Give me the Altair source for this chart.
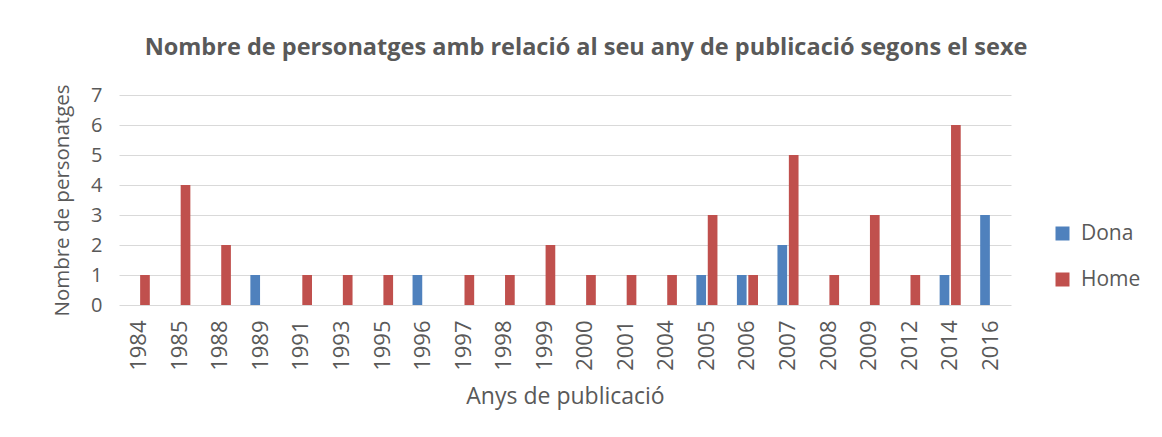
import altair as alt
import pandas as pd

years = ["1984", "1985", "1988", "1989", "1991", "1993", "1995", "1996", "1997", "1998",
         "1999", "2000", "2001", "2004", "2005", "2006", "2007", "2008", "2009", "2012",
         "2014", "2016"]
dona = [0, 0, 0, 1, 0, 0, 0, 1, 0, 0, 0, 0, 0, 0, 1, 1, 2, 0, 0, 0, 1, 3]
home = [1, 4, 2, 0, 1, 1, 1, 0, 1, 1, 2, 1, 1, 1, 3, 1, 5, 1, 3, 1, 6, 0]
series = ["Dona", "Home"]
colors = ["#4F81BD", "#C0504D"]

rows = []
for y, d, h in zip(years, dona, home):
    rows.append({"any": y, "sexe": "Dona", "n": d})
    rows.append({"any": y, "sexe": "Home", "n": h})
df = pd.DataFrame(rows)

FONT = "Open Sans"
TXT = "#595959"

chart = alt.Chart(df).mark_bar().encode(
    x=alt.X("any:N", sort=years,
            scale=alt.Scale(paddingInner=0.48, paddingOuter=0.24),
            axis=alt.Axis(title="Anys de publicació", labelAngle=-90, labelFontSize=22,
                          labelPadding=15, titlePadding=15, titleFontSize=23,
                          titleFontWeight="normal", ticks=False, domain=False,
                          labelColor=TXT, titleColor=TXT)),
    xOffset=alt.XOffset("sexe:N", sort=series, scale=alt.Scale(paddingInner=0.15)),
    y=alt.Y("n:Q", scale=alt.Scale(domain=[0, 7]),
            axis=alt.Axis(title="Nombre de personatges", values=[0, 1, 2, 3, 4, 5, 6, 7],
                          labelFontSize=20, labelPadding=17, titleFontSize=20.5,
                          titleFontWeight="normal", titlePadding=18, ticks=False,
                          domain=False, gridColor="#D9D9D9", gridWidth=1.2,
                          labelColor=TXT, titleColor=TXT)),
    color=alt.Color("sexe:N", sort=series,
                    scale=alt.Scale(domain=series, range=colors),
                    legend=alt.Legend(title=None, orient="none", legendX=933, legendY=128,
                                      symbolType="square", symbolSize=196,
                                      labelFontSize=21, labelColor=TXT, rowPadding=24,
                                      symbolStrokeWidth=0, labelOffset=8)),
).properties(
    width=892, height=210,
    title=alt.TitleParams("Nombre de personatges amb relació al seu any de publicació segons el sexe",
                          fontSize=23.5, fontWeight="bold", color=TXT, font=FONT, offset=24,
                          dx=21),
    padding={"left": 44, "top": 28, "right": 2, "bottom": 4},
).configure(font=FONT).configure_view(stroke=None)

chart.save("out.html", embed_options={"renderer": "svg", "actions": False})
